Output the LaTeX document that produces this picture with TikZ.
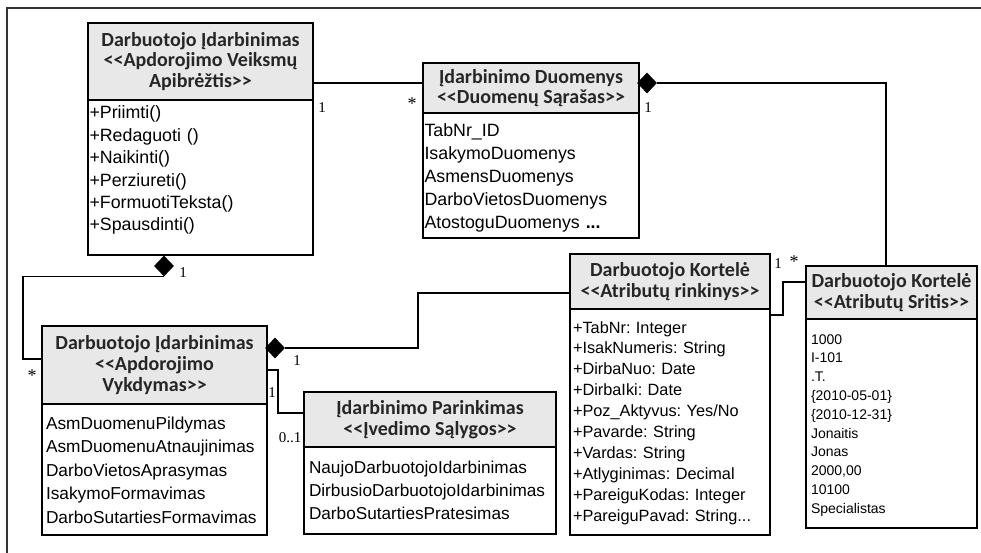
\documentclass[tikz,border=0pt]{standalone}
\usepackage{fontspec}
\setmainfont{Liberation Sans}
\newfontfamily\hdrfont{Carlito}
\newfontfamily\mulfont{Liberation Serif}
\usepackage{tikz}
\usetikzlibrary{shapes,positioning}
\frenchspacing
\tikzstyle{hdr} = [draw, line width=1.8pt, fill=black!9, text=black!85, anchor=north west, align=center, inner sep=0pt, outer sep=0pt, font=\hdrfont\bfseries\fontsize{20}{20.6}\selectfont]
\tikzstyle{body} = [draw, line width=1.8pt, fill=white, align=left, inner ysep=3pt, outer sep=0pt, font=\fontsize{17.8}{22.4}\selectfont]
\tikzstyle{comp} = [diamond, fill=black, inner sep=0pt, minimum width=20pt, minimum height=21pt]
\tikzstyle{conn} = [line width=1.2pt]
\tikzstyle{mult} = [anchor=base, inner sep=0pt, font=\mulfont\fontsize{15}{15}\selectfont]
\tikzstyle{star} = [mult, font=\mulfont\fontsize{18}{18}\selectfont]

\begin{document}
\begin{tikzpicture}[x=1pt,y=-1pt]
  \useasboundingbox (0,0) rectangle (981,553);
  \draw[line width=1.3pt, black!80] (7,553) -- (7,8) -- (981,8);

  % classes
  \node[hdr, minimum width=225pt, minimum height=77pt] (Ah) at (88,23)
    {Darbuotojo Įdarbinimas\\<{}<Apdorojimo Veiksmų\\Apibrėžtis>{}>};
  \node[body, below=0pt of Ah, inner xsep=1.5pt, text width=222pt, text height=16pt, text depth=133pt] (Ab)
    {+Priimti()\\+Redaguoti ()\\+Naikinti()\\+Perziureti()\\+FormuotiTeksta()\\+Spausdinti()};

  \node[hdr, minimum width=216pt, minimum height=50pt] (Bh) at (423,63)
    {Įdarbinimo Duomenys\\<{}<Duomenų Sąrašas>{}>};
  \node[body, below=0pt of Bh, inner xsep=1.5pt, text width=213pt, text height=21pt, text depth=98pt,
    font=\fontsize{17.8}{22.8}\selectfont] (Bb)
    {TabNr\_ID\\IsakymoDuomenys\\AsmensDuomenys\\DarboVietosDuomenys\\AtostoguDuomenys \textbf{...}};

  \node[hdr, minimum width=225pt, minimum height=78pt] (Ch) at (42,326)
    {Darbuotojo Įdarbinimas\\<{}<Apdorojimo\\Vykdymas>{}>};
  \node[body, below=0pt of Ch, inner xsep=4pt, text width=217pt, text height=22pt, text depth=103pt,
    font=\fontsize{17.3}{23.5}\selectfont] (Cb)
    {AsmDuomenuPildymas\\AsmDuomenuAtnaujinimas\\DarboVietosAprasymas\\IsakymoFormavimas\\DarboSutartiesFormavimas};

  \node[hdr, minimum width=252pt, minimum height=55pt] (Fh) at (304,392)
    {Įdarbinimo Parinkimas\\<{}<Įvedimo Sąlygos>{}>};
  \node[body, below=0pt of Fh, inner xsep=5pt, text width=242pt, text height=23pt, text depth=58pt,
    font=\fontsize{17.2}{23}\selectfont] (Fb)
    {NaujoDarbuotojoIdarbinimas\\DirbusioDarbuotojoIdarbinimas\\DarboSutartiesPratesimas};

  \node[hdr, minimum width=200pt, minimum height=55pt] (Dh) at (570,254)
    {Darbuotojo Kortelė\\<{}<Atributų rinkinys>{}>};
  \node[body, below=0pt of Dh, inner xsep=3pt, text width=194pt, text height=21pt, text depth=199pt,
    font=\fontsize{16.3}{20.9}\selectfont] (Db)
    {+TabNr: Integer\\+IsakNumeris: String\\+DirbaNuo: Date\\+DirbaIki: Date\\+Poz\_Aktyvus: Yes/No\\+Pavarde: String\\+Vardas: String\\+Atlyginimas: Decimal\\+PareiguKodas: Integer\\+PareiguPavad: String...};

  \node[hdr, minimum width=171pt, minimum height=53pt] (Eh) at (806,266)
    {Darbuotojo Kortelė\\<{}<Atributų Sritis>{}>};
  \node[body, below=0pt of Eh, inner xsep=5pt, text width=161pt, text height=22pt, text depth=181pt,
    font=\fontsize{14}{18.8}\selectfont] (Eb)
    {1000\\I-101\\.T.\\\{2010-05-01\}\\\{2010-12-31\}\\Jonaitis\\Jonas\\2000,00\\10100\\Specialistas};

  % composition diamonds
  \node[comp] (dA) at (164,266) {};
  \node[comp] (dB) at (647,83) {};
  \node[comp] (dC) at (275,348) {};

  % associations
  \draw[conn] (Ah.east |- dB) -- (Bh.west |- dB);
  \draw[conn] (dB.east) -| ([xshift=-5.5pt]Eh.north);
  \draw[conn] (dA.south) -| ([xshift=-19pt,yshift=6pt]Ch.west) -- ([yshift=6pt]Ch.west);
  \draw[conn] (dC.east) -| ([xshift=-152pt,yshift=-11.5pt]Dh.west) -- ([yshift=-11.5pt]Dh.west);
  \draw[conn] ([yshift=-5pt]Ch.east) -| ([xshift=-26pt,yshift=6.5pt]Fh.west) -- ([yshift=6.5pt]Fh.west);
  \draw[conn] ([yshift=-6pt]Dh.south east) -| ([xshift=-23pt,yshift=10.5pt]Eh.west) -- ([yshift=10.5pt]Eh.west);

  % multiplicities
  \node[mult] (m1) at (322,113) {1};
  \node[star] (m2) at (412,110) {*};
  \node[mult] (m3) at (648,113) {1};
  \node[mult] (m4) at (183,277) {1};
  \node[star] (m5) at (32,381) {*};
  \node[mult] (m6) at (297,365) {1};
  \node[mult] (m7) at (272,397) {1};
  \node[mult] (m8) at (290,442) {0..1};
  \node[mult] (m9) at (778,268) {1};
  \node[star] (m10) at (794,267) {*};
\end{tikzpicture}
\end{document}
